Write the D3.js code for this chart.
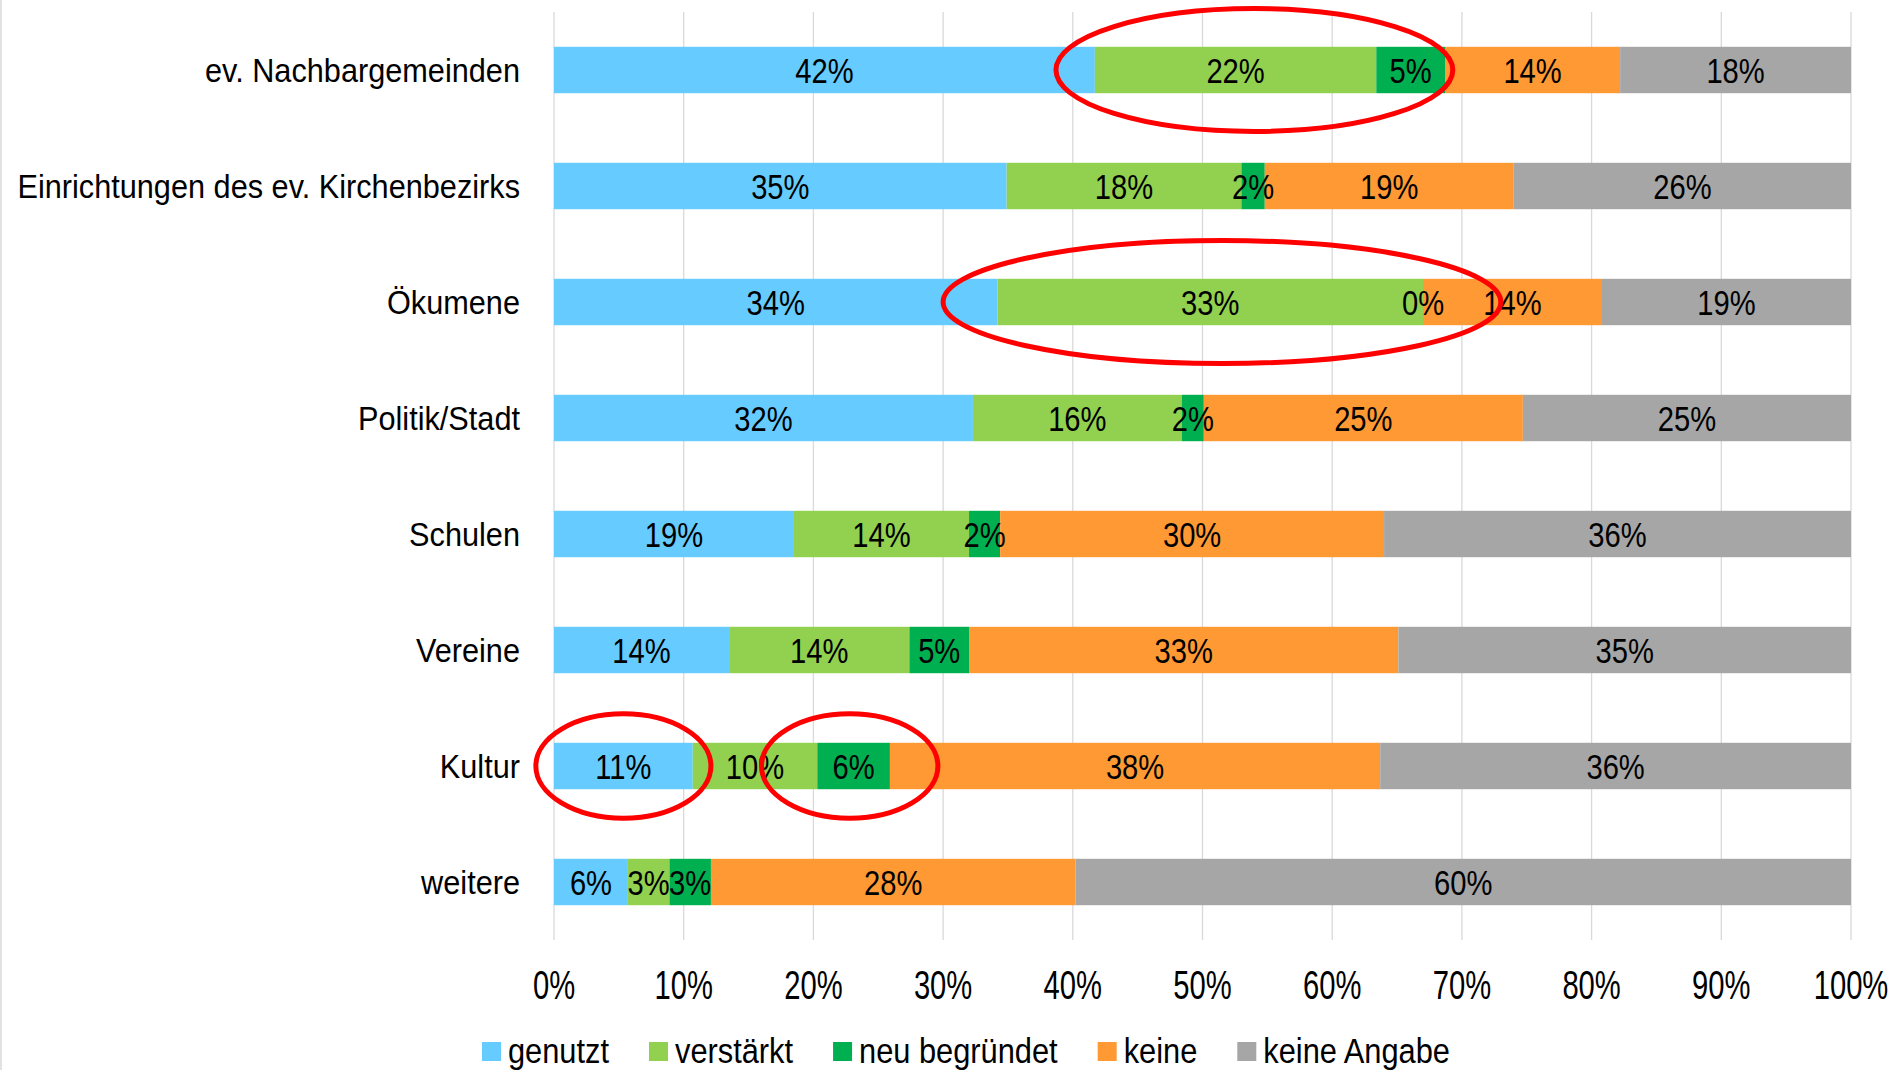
<!DOCTYPE html>
<html>
<head>
<meta charset="utf-8">
<script src="https://cdn.jsdelivr.net/npm/d3@7"></script>
<style>
  html, body { margin: 0; padding: 0; background: #fff; }
  svg { display: block; }
  text { font-family: "Liberation Sans", Arial, sans-serif; fill: #000; }
</style>
</head>
<body>
<div id="chart"></div>
<script>
// values (percent of answers per partner)
const categories = ["ev. Nachbargemeinden", "Einrichtungen des ev. Kirchenbezirks", "Ökumene", "Politik/Stadt", "Schulen", "Vereine", "Kultur", "weitere"]
const seriesNames = ["genutzt", "verstärkt", "neu begründet", "keine", "keine Angabe"]
const genutzt       = [41.7, 34.9, 34.2, 32.3, 18.5, 13.5, 10.7, 5.7]
const verstaerkt    = [21.7, 18.1, 32.8, 16.1, 13.5, 13.9, 9.6, 3.2]
const neuBegruendet = [5.3, 1.8, 0, 1.7, 2.4, 4.6, 5.6, 3.2]
const keine         = [13.5, 19.2, 13.8, 24.6, 29.6, 33.1, 37.8, 28.1]
const keineAngabe   = [17.8, 26.0, 19.2, 25.3, 36.0, 34.9, 36.3, 59.8]
const xTicks = [0, 10, 20, 30, 40, 50, 60, 70, 80, 90, 100]
const colors = ["#66CCFF", "#92D050", "#00B050", "#FF9933", "#A6A6A6"]

// red hand-drawn marks: category, from %, to %
const markCats = ["ev. Nachbargemeinden", "Ökumene", "Kultur", "Kultur"]
const markFrom = [38.7, 30.0, -1.4, 16.0]
const markTo   = [69.3, 73.0, 12.1, 29.6]
const markHeight = [0.53, 0.53, 0.45, 0.45]

const W = 1895, H = 1070
const margin = {top: 12, left: 554, right: 44, bottom: 130}

const svg = d3.select("#chart").append("svg")
  .attr("width", W)
  .attr("height", H)

const x = d3.scaleLinear().domain([0, 100]).range([margin.left, W - margin.right])
const y = d3.scaleBand().domain(categories)
  .range([margin.top, H - margin.bottom])
  .paddingInner(0.6)
  .paddingOuter(0.3)

// build table for d3.stack
const series = [genutzt, verstaerkt, neuBegruendet, keine, keineAngabe]
const table = categories.map((c, i) => {
  const row = {cat: c}
  seriesNames.forEach((s, j) => { row[s] = series[j][i] })
  return row
})
const stacked = d3.stack().keys(seriesNames)(table)

// left frame line
svg.append("line")
  .attr("x1", 1).attr("x2", 1).attr("y1", 0).attr("y2", H)
  .attr("stroke", "#d9d9d9").attr("stroke-width", 1.5)

// grid
svg.append("g")
  .selectAll("line")
  .data(xTicks)
  .join("line")
    .attr("x1", d => x(d)).attr("x2", d => x(d))
    .attr("y1", margin.top).attr("y2", H - margin.bottom)
    .attr("stroke", "#d9d9d9")
    .attr("stroke-width", 1.3)

// bars
svg.append("g")
  .selectAll("g")
  .data(stacked)
  .join("g")
    .attr("fill", (d, i) => colors[i])
  .selectAll("rect")
  .data(d => d)
  .join("rect")
    .attr("x", d => x(d[0]))
    .attr("y", d => y(d.data.cat))
    .attr("width", d => x(d[1]) - x(d[0]))
    .attr("height", y.bandwidth())

// value labels, drawn after all bars so small segments are not covered
const valFont = 36, valScale = 0.81
svg.append("g")
  .selectAll("g")
  .data(stacked)
  .join("g")
  .selectAll("text")
  .data(d => d.map(v => ({v: v, key: d.key})))
  .join("text")
    .attr("text-anchor", "middle")
    .attr("font-size", valFont)
    .attr("transform", d => "translate(" + x((d.v[0] + d.v[1]) / 2) + "," + (y(d.v.data.cat) + y.bandwidth() / 2 + valFont * 0.36) + ") scale(" + valScale + ",1)")
    .text(d => Math.round(d.v.data[d.key]) + "%")

// category labels
const catFont = 33, catScale = 0.93
svg.append("g")
  .selectAll("text")
  .data(categories)
  .join("text")
    .attr("text-anchor", "end")
    .attr("font-size", catFont)
    .attr("transform", d => "translate(" + (margin.left - 34) + "," + (y(d) + y.bandwidth() / 2 + catFont * 0.36) + ") scale(" + catScale + ",1)")
    .text(d => d)

// x tick labels
const tickFont = 40, tickScale = 0.73
svg.append("g")
  .selectAll("text")
  .data(xTicks)
  .join("text")
    .attr("text-anchor", "middle")
    .attr("font-size", tickFont)
    .attr("transform", d => "translate(" + x(d) + "," + (H - margin.bottom + 59) + ") scale(" + tickScale + ",1)")
    .text(d => d + "%")

// red ellipses
svg.append("g")
  .selectAll("ellipse")
  .data(markCats)
  .join("ellipse")
    .attr("cx", (d, i) => (x(markFrom[i]) + x(markTo[i])) / 2)
    .attr("cy", d => y(d) + y.bandwidth() / 2)
    .attr("rx", (d, i) => (x(markTo[i]) - x(markFrom[i])) / 2)
    .attr("ry", (d, i) => y.step() * markHeight[i])
    .attr("fill", "none")
    .attr("stroke", "#FF0000")
    .attr("stroke-width", 5)

// legend
const legFont = 34.5, legScale = 0.893
const legend = svg.append("g")
let lx = 482
seriesNames.forEach((s, i) => {
  legend.append("rect")
    .attr("x", lx).attr("y", 1042)
    .attr("width", 19).attr("height", 19)
    .attr("fill", colors[i])
  const t = legend.append("text")
    .attr("font-size", legFont)
    .attr("transform", "translate(" + (lx + 26) + ",1063) scale(" + legScale + ",1)")
    .text(s)
  lx += 26 + t.node().getComputedTextLength() * legScale + 40
})
</script>
</body>
</html>
